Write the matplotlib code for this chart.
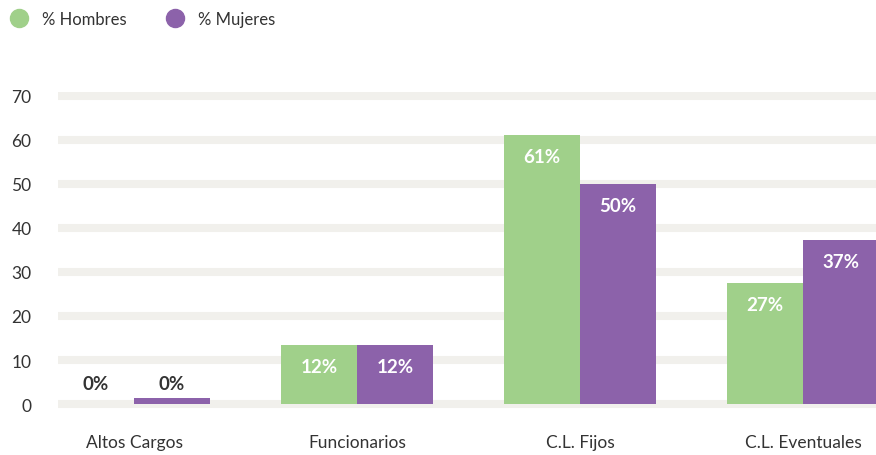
# Hombres / Mujeres por tipo de cargo

import matplotlib.pyplot as plt
from matplotlib.lines import Line2D
import numpy as np

categorias = ['Altos Cargos', 'Funcionarios', 'C.L. Fijos', 'C.L. Eventuales']
hombres = [0, 13.4, 61.2, 27.6]
mujeres = [1.4, 13.4, 49.9, 37.3]
etiq_hombres = ['0%', '12%', '61%', '27%']
etiq_mujeres = ['0%', '12%', '50%', '37%']

verde = '#a0d08a'
morado = '#8c62aa'
gris = '#333333'

plt.rcParams['font.family'] = ['Lato', 'DejaVu Sans']

fig = plt.figure(figsize=(8.76, 4.56), dpi=100)
ax = fig.add_axes([58 / 876, 45 / 456, 818 / 876, 318 / 456])

x = np.arange(len(categorias))
w = 0.341
b1 = ax.bar(x - w / 2, hombres, w, color=verde, zorder=2)
b2 = ax.bar(x + w / 2, mujeres, w, color=morado, zorder=2)

for bars, labels in ((b1, etiq_hombres), (b2, etiq_mujeres)):
    for r, lab in zip(bars, labels):
        cx = r.get_x() + r.get_width() / 2
        h = r.get_height()
        if h > 5:
            ax.annotate(lab, (cx, h), xytext=(0, -15.5), textcoords='offset points',
                        ha='center', va='center', color='white',
                        fontsize=13.5, fontweight='bold', zorder=3)
        else:
            ax.annotate(lab, (cx, 0), xytext=(0, 15), textcoords='offset points',
                        ha='center', va='center', color=gris,
                        fontsize=13.5, fontweight='bold', zorder=3)

ax.set_xlim(-0.341, 3.327)
ax.set_ylim(-1.36, 70.9)
ax.set_yticks(range(0, 71, 10))
ax.set_xticks(x)
ax.set_xticklabels(categorias)
ax.yaxis.grid(True, color='#f1f0ec', linewidth=5.8, zorder=0)
ax.set_axisbelow(True)
ax.tick_params(axis='both', length=0, labelsize=12.5, labelcolor=gris)
ax.tick_params(axis='y', pad=19)
ax.tick_params(axis='x', pad=17)
for s in ax.spines.values():
    s.set_visible(False)

handles = [Line2D([], [], marker='o', ls='', color=verde, markersize=13),
           Line2D([], [], marker='o', ls='', color=morado, markersize=13)]
fig.legend(handles, ['% Hombres', '% Mujeres'], loc='upper left',
           bbox_to_anchor=(-0.003, 1.0), ncol=2, frameon=False, fontsize=12,
           labelcolor=gris, handletextpad=0.75, columnspacing=2.35,
           borderaxespad=0.3, handlelength=1.2)

fig.savefig('out.png', dpi=100)
